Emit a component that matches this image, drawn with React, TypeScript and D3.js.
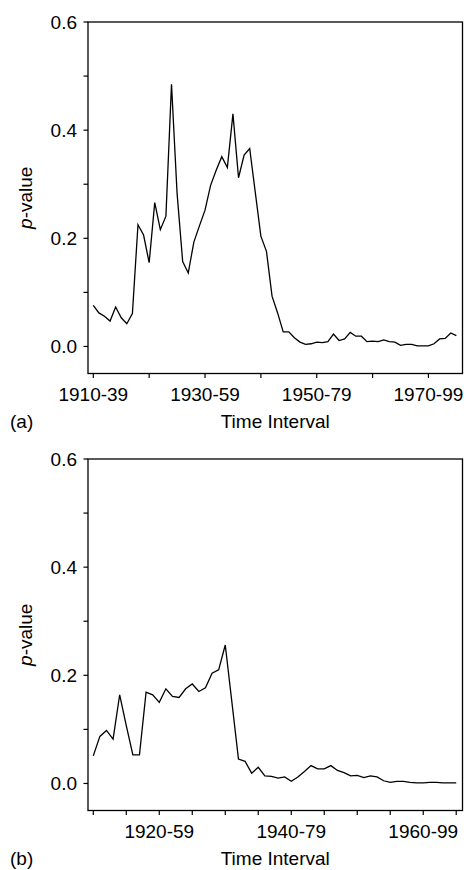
import * as d3 from "d3";

// start year of each moving window
const yearsA = d3.range(1910, 1976);
const pA = [
  0.076, 0.062, 0.056, 0.047, 0.073, 0.053, 0.042, 0.061, 0.225, 0.206,
  0.155, 0.266, 0.216, 0.241, 0.485, 0.283, 0.157, 0.136, 0.193, 0.223,
  0.252, 0.298, 0.326, 0.351, 0.331, 0.43, 0.312, 0.354, 0.366, 0.285,
  0.204, 0.176, 0.093, 0.062, 0.027, 0.027, 0.016, 0.008, 0.004, 0.005,
  0.008, 0.007, 0.009, 0.023, 0.011, 0.014, 0.026, 0.019, 0.019, 0.009,
  0.01, 0.009, 0.012, 0.009, 0.008, 0.002, 0.004, 0.004, 0.001, 0.001,
  0.001, 0.005, 0.014, 0.015, 0.025, 0.02,
];

const yearsB = d3.range(1910, 1966);
const pB = [
  0.051, 0.087, 0.098, 0.082, 0.164, 0.107, 0.053, 0.053, 0.169, 0.164,
  0.15, 0.175, 0.161, 0.159, 0.175, 0.184, 0.17, 0.177, 0.204, 0.21,
  0.256, 0.151, 0.045, 0.041, 0.019, 0.03, 0.014, 0.013, 0.01, 0.012,
  0.004, 0.012, 0.022, 0.033, 0.027, 0.027, 0.033, 0.024, 0.02, 0.014,
  0.015, 0.011, 0.014, 0.012, 0.005, 0.002, 0.004, 0.004, 0.002, 0.001,
  0.001, 0.002, 0.002, 0.001, 0.001, 0.001,
];

const yTicks = [0, 0.1, 0.2, 0.3, 0.4, 0.5, 0.6];
const yLabelTicks = [0, 0.2, 0.4, 0.6];

const xTicksA = [1910, 1920, 1930, 1940, 1950, 1960, 1970];
const xLabelsA = [
  { year: 1910, text: "1910-39" },
  { year: 1930, text: "1930-59" },
  { year: 1950, text: "1950-79" },
  { year: 1970, text: "1970-99" },
];

const xTicksB = d3.range(1910, 1966, 5);
const xLabelsB = [
  { year: 1920, text: "1920-59" },
  { year: 1940, text: "1940-79" },
  { year: 1960, text: "1960-99" },
];

const FONT = "'Liberation Sans', Arial, Helvetica, sans-serif";
const left = 88;
const right = 462.5;
const boxH = 351.5;

type PanelProps = {
  top: number;
  years: number[];
  values: number[];
  xDomain: [number, number];
  xTicks: number[];
  xLabels: { year: number; text: string }[];
  tag: string;
};

const Panel = ({ top, years, values, xDomain, xTicks, xLabels, tag }: PanelProps) => {
  const x = d3.scaleLinear().domain(xDomain).range([left, right]);
  const y = d3.scaleLinear().domain([-0.05, 0.6]).range([top + boxH, top]);
  const bottom = top + boxH;

  const line = d3
    .line<number>()
    .x((_, i) => x(years[i]))
    .y((d) => y(d));

  return (
    <g fontFamily={FONT} fill="#000">
      <rect x={left} y={top} width={right - left} height={boxH} fill="none" stroke="#000" strokeWidth={1.3} />

      {yTicks.map((t) => (
        <line key={"yt" + t} x1={left - 4.5} x2={left} y1={y(t)} y2={y(t)} stroke="#000" strokeWidth={1.2} />
      ))}
      {yLabelTicks.map((t) => (
        <text key={"yl" + t} x={77} y={y(t)} dy="0.35em" textAnchor="end" fontSize={19}>
          {d3.format(".1f")(t)}
        </text>
      ))}

      {xTicks.map((t) => (
        <line key={"xt" + t} x1={x(t)} x2={x(t)} y1={bottom} y2={bottom + 4.5} stroke="#000" strokeWidth={1.2} />
      ))}
      {xLabels.map((l) => (
        <text key={"xl" + l.year} x={x(l.year)} y={bottom + 27.5} textAnchor="middle" fontSize={19}>
          {l.text}
        </text>
      ))}

      <path d={line(values) || ""} fill="none" stroke="#000" strokeWidth={1.3} strokeLinejoin="miter" />

      <text x={(left + right) / 2} y={bottom + 54.5} textAnchor="middle" fontSize={19}>
        Time Interval
      </text>
      <text x={10} y={bottom + 54.5} fontSize={19}>
        {tag}
      </text>
      <text
        transform={`translate(32, ${top + boxH / 2}) rotate(-90)`}
        textAnchor="middle"
        fontSize={19}
      >
        <tspan fontStyle="italic">p</tspan>-value
      </text>
    </g>
  );
};

export default function App() {
  return (
    <svg
      width={466}
      height={870}
      style={{ position: "absolute", left: 0, top: 0, background: "#fff" }}
    >
      <Panel
        top={22}
        years={yearsA}
        values={pA}
        xDomain={[1909.05, 1976.1]}
        xTicks={xTicksA}
        xLabels={xLabelsA}
        tag="(a)"
      />
      <Panel
        top={459}
        years={yearsB}
        values={pB}
        xDomain={[1909.2, 1965.95]}
        xTicks={xTicksB}
        xLabels={xLabelsB}
        tag="(b)"
      />
    </svg>
  );
}
